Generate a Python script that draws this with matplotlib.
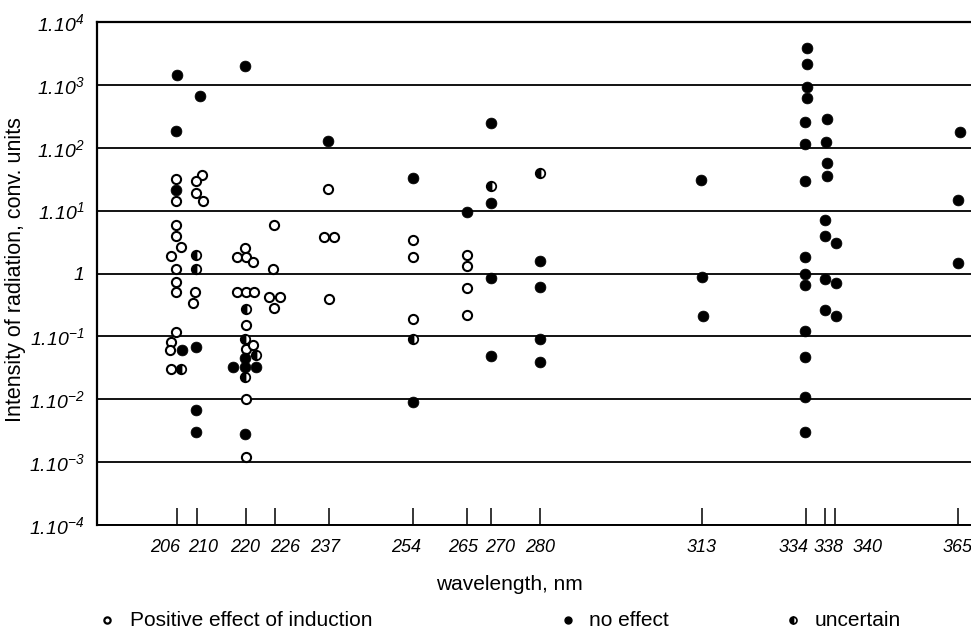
import matplotlib
matplotlib.use("Agg")
import matplotlib.pyplot as plt
from matplotlib.ticker import NullLocator
from matplotlib.lines import Line2D

plt.rcParams['font.family'] = ['Liberation Sans', 'DejaVu Sans']
# only the decade labels use mathtext, and they are all italic
plt.rcParams['mathtext.fontset'] = 'custom'
plt.rcParams['mathtext.rm'] = 'Liberation Sans:italic'
plt.rcParams['mathtext.it'] = 'Liberation Sans:italic'

# wavelengths marked on the x axis, nm
tick_nm = [206, 210, 220, 226, 237, 254, 265, 270, 280, 313, 334, 338, 340, 365]
tick_labels = [str(t) for t in tick_nm]

# decades on the y axis
decades = [1e-4, 1e-3, 1e-2, 1e-1, 1, 1e1, 1e2, 1e3, 1e4]
decade_labels = [r'$1.10^{-4}$', r'$1.10^{-3}$', r'$1.10^{-2}$', r'$1.10^{-1}$', r'$1$',
                 r'$1.10^{1}$', r'$1.10^{2}$', r'$1.10^{3}$', r'$1.10^{4}$']

# positive effect of induction (open circles)
pos_nm = [205.8, 205.8, 205.8, 205.8, 206.8, 204.8, 205.8, 205.8, 205.8, 205.8, 204.8, 204.6, 204.8,
          211.1, 209.9, 209.9, 211.3, 209.7, 209.3,
          219.9, 218.2, 220.1, 221.5, 218.2, 220.1, 221.7, 220.1, 220.1, 221.5, 220.1, 220.1,
          225.8, 225.6, 224.8, 227.0, 225.8,
          236.8, 236.0, 238.0, 237.0,
          254.0, 254.0, 254.0,
          265.0, 265.0, 265.0, 265.0]
pos_val = [32, 14, 5.9, 4.0, 2.6, 1.9, 1.17, 0.74, 0.51, 0.118, 0.081, 0.061, 0.030,
           37, 30, 19, 14, 0.51, 0.34,
           2.5, 1.8, 1.8, 1.5, 0.51, 0.51, 0.51, 0.15, 0.063, 0.072, 0.01, 0.0012,
           5.9, 1.17, 0.43, 0.43, 0.28,
           22, 3.8, 3.8, 0.40,
           3.4, 1.8, 0.19,
           2.0, 1.3, 0.59, 0.22]

# no effect (filled circles)
none_nm = [206.0, 205.8, 205.8, 207.0,
           210.7, 209.9, 209.9, 209.9,
           219.9, 219.9, 217.4, 219.9, 222.1, 219.9,
           236.8,
           254.0, 254.0,
           265.0,
           270.0, 270.0, 270.0, 270.0,
           280.0, 280.0, 280.0, 280.0,
           312.8, 313.0, 313.2,
           334.4, 334.4, 334.4, 334.4, 333.8, 333.8, 333.8, 333.8, 333.8, 333.8, 333.8, 333.8, 333.8, 333.8,
           338.3, 338.1, 338.3, 338.3, 337.9, 337.9, 337.9, 337.9,
           340.3, 340.3, 340.3,
           365.4, 365.0, 365.0]
none_val = [1450, 185, 21, 0.061,
            660, 0.068, 0.0068, 0.003,
            2000, 0.046, 0.033, 0.033, 0.033, 0.0028,
            128,
            33, 0.0091,
            9.6,
            250, 13, 0.85, 0.049,
            1.6, 0.61, 0.091, 0.039,
            31, 0.89, 0.21,
            3900, 2150, 940, 620, 256, 115, 30, 1.8, 1.0, 0.66, 0.12, 0.047, 0.011, 0.003,
            290, 123, 57, 36, 7.1, 4.0, 0.81, 0.26,
            3.1, 0.71, 0.21,
            180, 15, 1.48]

# uncertain (half filled circles)
unc_nm = [206.8, 209.9, 209.9, 220.1, 219.9, 222.1, 219.9, 254.0, 270.0, 280.0]
unc_val = [0.030, 2.0, 1.17, 0.27, 0.091, 0.051, 0.023, 0.091, 25, 40]

W, H = 971, 632
fig = plt.figure(figsize=(W / 100, H / 100), dpi=100)
ax = fig.add_axes([97 / W, 107 / H, 874 / W, 503 / H])

ax.set_yscale('log')
ax.set_ylim(1e-4, 1e4)
ax.set_xlim(189.7, 367.7)

ax.plot(pos_nm, pos_val, 'o', ms=6.6, mfc='white', mec='black', mew=1.5,
        clip_on=False, zorder=3)
ax.plot(none_nm, none_val, 'o', ms=7.8, mfc='black', mec='black', mew=0.5,
        clip_on=False, zorder=3)
ax.plot(unc_nm, unc_val, 'o', ms=6.8, fillstyle='left', mfc='black',
        mfcalt='white', mec='black', mew=1.3, clip_on=False, zorder=3)

# horizontal rules at every decade
ax.set_yticks(decades)
ax.set_yticklabels(decade_labels, fontsize=14)
ax.yaxis.set_minor_locator(NullLocator())
ax.tick_params(axis='y', length=0, pad=9)
ax.grid(axis='y', color='black', lw=1.3)
ax.set_axisbelow(True)

ax.spines['right'].set_visible(False)
ax.spines['left'].set_linewidth(1.6)
ax.spines['bottom'].set_linewidth(1.4)
ax.spines['top'].set_linewidth(1.6)

# short tick marks standing on the bottom line, labels placed by hand
ax.set_xticks(tick_nm)
ax.tick_params(axis='x', direction='in', length=12, width=1.1, labelbottom=False)
label_dx = [-12, 6, -1, 10, -4, -7, -4, 9, 0, -1, -12, 3, 33, 0]
for t, lab, dx in zip(tick_nm, tick_labels, label_dx):
    ax.annotate(lab, xy=(t, 0), xycoords=ax.get_xaxis_transform(),
                xytext=(dx, -23), textcoords='offset pixels',
                ha='center', va='center', fontsize=13, fontstyle='italic',
                annotation_clip=False)

fig.text(509 / W, 1 - 584 / H, 'wavelength, nm', ha='center', va='center', fontsize=15)
fig.text(16 / W, 1 - 270 / H, 'Intensity of radiation, conv. units', rotation=90,
         ha='center', va='center', fontsize=15.5)

# legend row
leg_y = 1 - 620 / H
fig.add_artist(Line2D([107 / W], [leg_y], marker='o', ms=4.5, mfc='white', mec='black',
                      mew=1.6, transform=fig.transFigure))
fig.text(130 / W, leg_y, 'Positive effect of induction', va='center', fontsize=15)
fig.add_artist(Line2D([568 / W], [leg_y], marker='o', ms=5, mfc='black', mec='black',
                      transform=fig.transFigure))
fig.text(589 / W, leg_y, 'no effect', va='center', fontsize=15)
fig.add_artist(Line2D([793 / W], [leg_y], marker='o', ms=5, fillstyle='left', mfc='black',
                      mfcalt='white', mec='black', mew=1.2, transform=fig.transFigure))
fig.text(815 / W, leg_y, 'uncertain', va='center', fontsize=15)

fig.savefig('out.png', dpi=100)
